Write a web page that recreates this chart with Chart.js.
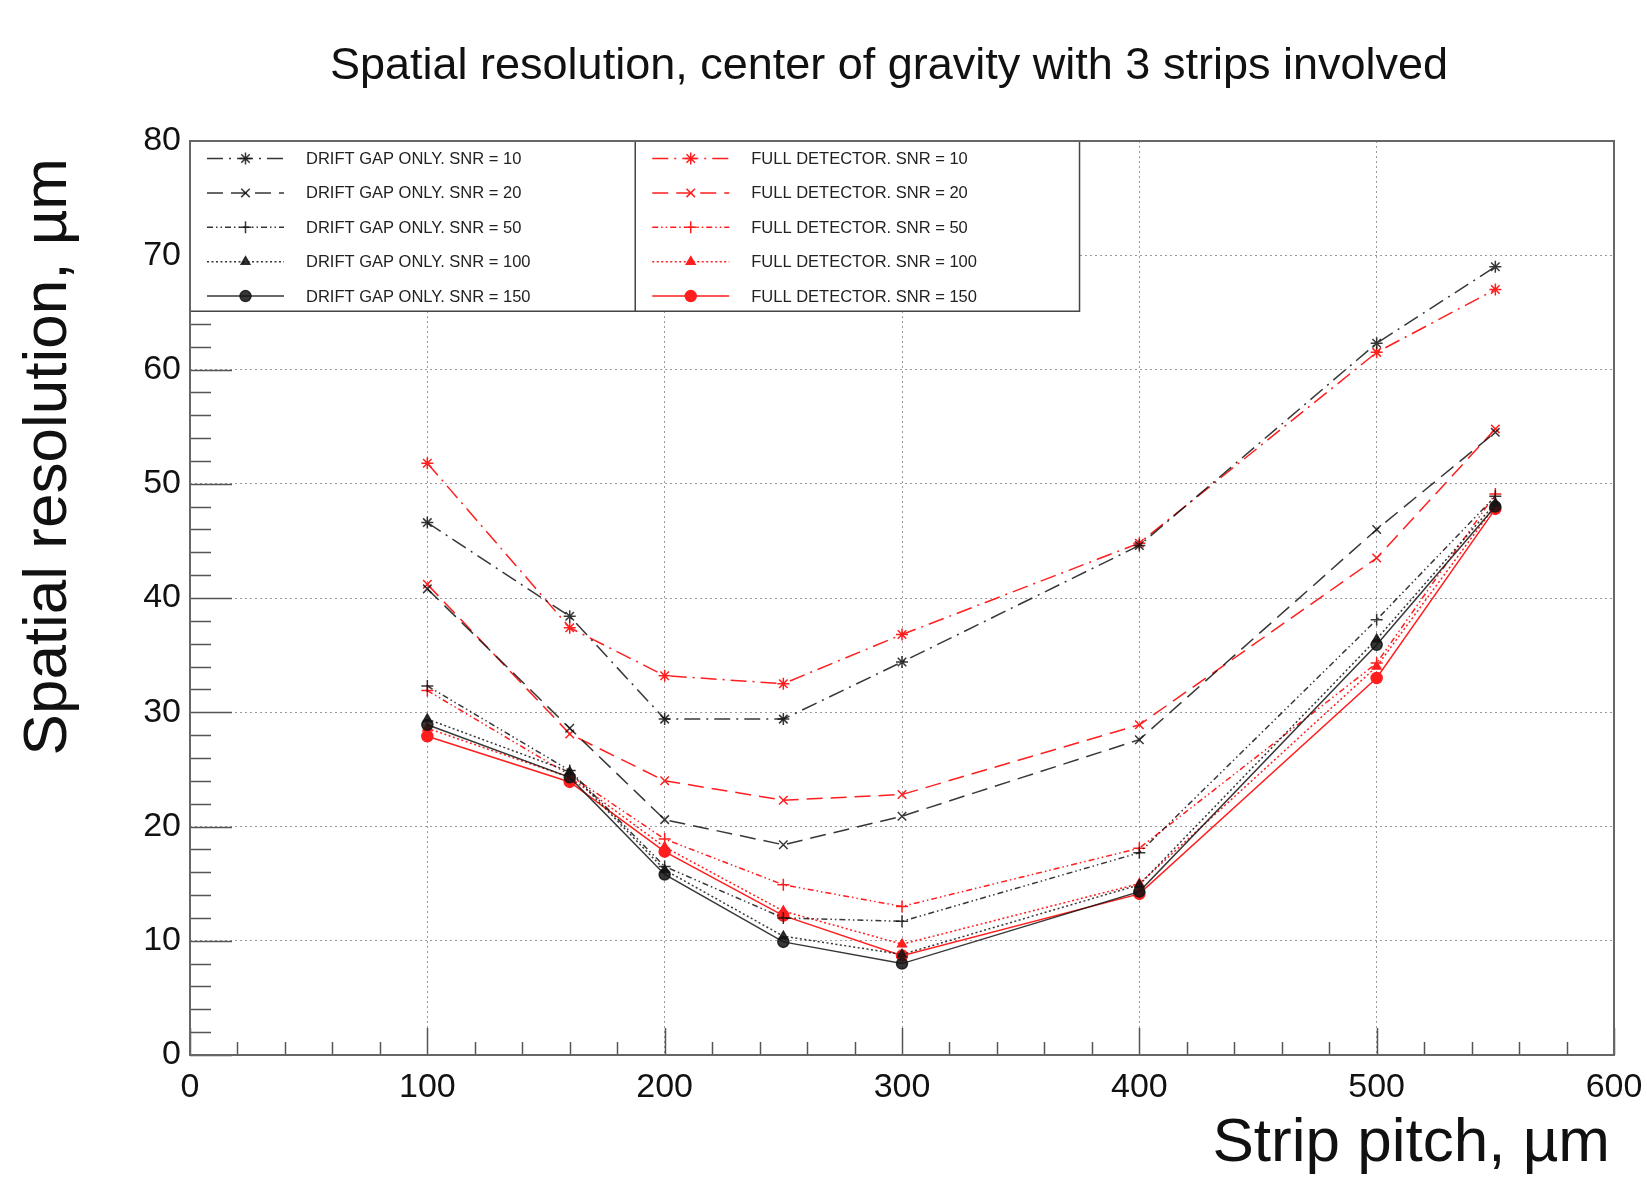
<!DOCTYPE html>
<html>
<head>
<meta charset="utf-8">
<script src="https://cdn.jsdelivr.net/npm/chart.js@4.4.1/dist/chart.umd.min.js"></script>
<style>
  html, body { margin: 0; padding: 0; background: #fff; }
  #wrap { width: 1647px; height: 1180px; }
</style>
</head>
<body>
<div id="wrap"><canvas id="resChart" width="1647" height="1180"></canvas></div>
<script>
// strip pitch values, um
const pitches = [100, 160, 200, 250, 300, 400, 500, 550];

// drift gap only
const driftSnr10  = [46.6, 38.4, 29.4, 29.4, 34.4, 44.6, 62.3, 69.0];
const driftSnr20  = [40.8, 28.6, 20.6, 18.4, 20.9, 27.6, 46.0, 54.5];
const driftSnr50  = [32.3, 24.9, 16.5, 12.0, 11.7, 17.7, 38.1, 48.9];
const driftSnr100 = [29.4, 24.8, 16.2, 10.4, 8.8, 14.9, 36.4, 48.3];
const driftSnr150 = [28.9, 24.3, 15.8, 9.9, 8.0, 14.3, 35.9, 48.0];

// full detector
const fullSnr10  = [51.8, 37.4, 33.2, 32.5, 36.8, 44.8, 61.5, 67.0];
const fullSnr20  = [41.2, 28.1, 24.0, 22.3, 22.8, 28.9, 43.5, 54.8];
const fullSnr50  = [31.9, 24.5, 18.9, 14.9, 13.0, 18.1, 34.3, 49.1];
const fullSnr100 = [28.6, 24.3, 18.2, 12.6, 9.7, 15.0, 34.0, 48.1];
const fullSnr150 = [27.9, 23.9, 17.8, 12.2, 8.7, 14.1, 33.0, 47.8];

const snrLabels = ['10', '20', '50', '100', '150'];
const xTicks = [0, 100, 200, 300, 400, 500, 600];
const yTicks = [0, 10, 20, 30, 40, 50, 60, 70, 80];

const BLACK = 'rgba(20,20,20,0.85)';
const RED = 'rgb(255,30,30)';

// line dash + marker for each SNR
const styles = [
  { dash: [16, 6, 2, 6], point: 'star', radius: 6, fill: false },
  { dash: [16, 8], point: 'crossRot', radius: 6, fill: false },
  { dash: [6, 3, 1.5, 3, 1.5, 3], point: 'cross', radius: 6, fill: false },
  { dash: [2, 2.5], point: 'triangle', radius: 5, fill: true },
  { dash: [], point: 'circle', radius: 5.5, fill: true },
];

const driftSeries = [driftSnr10, driftSnr20, driftSnr50, driftSnr100, driftSnr150];
const fullSeries = [fullSnr10, fullSnr20, fullSnr50, fullSnr100, fullSnr150];

function makeDataset(label, values, color, st) {
  return {
    label: label,
    data: values.map((v, i) => ({ x: pitches[i], y: v })),
    borderColor: color,
    backgroundColor: color,
    borderWidth: 1.5,
    borderDash: st.dash,
    pointStyle: st.point,
    pointRadius: st.radius,
    pointBorderWidth: 1.5,
    pointBackgroundColor: st.fill ? color : 'rgba(0,0,0,0)',
    pointBorderColor: color,
    tension: 0,
    fill: false,
  };
}

const datasets = [];
styles.forEach((st, i) => {
  datasets.push(makeDataset('DRIFT GAP ONLY. SNR = ' + snrLabels[i], driftSeries[i], BLACK, st));
});
styles.forEach((st, i) => {
  datasets.push(makeDataset('FULL DETECTOR. SNR = ' + snrLabels[i], fullSeries[i], RED, st));
});

// ROOT-like frame, inside ticks, titles and the two-column legend
const rootDecor = {
  id: 'rootDecor',
  afterDatasetsDraw(chart) {
    const ctx = chart.ctx;
    const area = chart.chartArea;
    const xs = chart.scales.x;
    const ys = chart.scales.y;
    ctx.save();

    // tick marks inside the frame
    ctx.strokeStyle = '#555';
    ctx.lineWidth = 1.5;
    for (let v = 0; v <= 80; v += 2) {
      const y = Math.round(ys.getPixelForValue(v)) + 0.5;
      const len = v % 10 === 0 ? 42 : 21;
      ctx.beginPath();
      ctx.moveTo(area.left, y);
      ctx.lineTo(area.left + len, y);
      ctx.stroke();
    }
    for (let v = 0; v <= 600; v += 20) {
      const x = Math.round(xs.getPixelForValue(v)) + 0.5;
      const len = v % 100 === 0 ? 27 : 13;
      ctx.beginPath();
      ctx.moveTo(x, area.bottom);
      ctx.lineTo(x, area.bottom - len);
      ctx.stroke();
    }

    // legend box
    const lx0 = xs.getPixelForValue(0);
    const lx1 = xs.getPixelForValue(374.8);
    const lxm = xs.getPixelForValue(187.6);
    const ly0 = ys.getPixelForValue(80);
    const ly1 = ys.getPixelForValue(65.1);
    ctx.fillStyle = '#fff';
    ctx.fillRect(lx0, ly0, lx1 - lx0, ly1 - ly0);
    ctx.strokeStyle = '#444';
    ctx.lineWidth = 1.5;
    ctx.strokeRect(lx0, ly0, lx1 - lx0, ly1 - ly0);
    ctx.beginPath();
    ctx.moveTo(lxm, ly0);
    ctx.lineTo(lxm, ly1);
    ctx.stroke();

    const rowY0 = ly0 + 17.5;
    const rowStep = 34.4;
    ctx.font = '16.5px "Liberation Sans", Arial, sans-serif';
    ctx.textBaseline = 'middle';
    chart.data.datasets.forEach((ds, i) => {
      const col = i < 5 ? 0 : 1;
      const row = i % 5;
      const y = rowY0 + row * rowStep;
      const sx0 = col === 0 ? lx0 + 17 : lxm + 17;
      const sx1 = sx0 + 77;
      ctx.strokeStyle = ds.borderColor;
      ctx.lineWidth = 1.5;
      ctx.setLineDash(ds.borderDash);
      ctx.beginPath();
      ctx.moveTo(sx0, y);
      ctx.lineTo(sx1, y);
      ctx.stroke();
      ctx.setLineDash([]);
      ctx.fillStyle = ds.pointBackgroundColor;
      ctx.strokeStyle = ds.pointBorderColor;
      ctx.lineWidth = 1.5;
      Chart.helpers.drawPoint(ctx, {
        pointStyle: ds.pointStyle,
        radius: ds.pointRadius,
        rotation: 0,
        borderWidth: 1.5,
      }, (sx0 + sx1) / 2, y);
      ctx.fillStyle = '#222';
      ctx.textAlign = 'left';
      ctx.fillText(ds.label, sx1 + 22, y + 1);
    });

    // frame
    ctx.strokeStyle = '#666';
    ctx.lineWidth = 2;
    ctx.strokeRect(area.left, area.top, area.right - area.left, area.bottom - area.top);

    // titles
    ctx.fillStyle = '#111';
    ctx.textBaseline = 'alphabetic';
    ctx.textAlign = 'center';
    ctx.font = '45px "Liberation Sans", Arial, sans-serif';
    ctx.fillText('Spatial resolution, center of gravity with 3 strips involved', 889, 79);

    ctx.textAlign = 'right';
    ctx.font = '62px "Liberation Sans", Arial, sans-serif';
    ctx.fillText('Strip pitch, \u00b5m', 1610, 1161);

    ctx.translate(66, 158);
    ctx.rotate(-Math.PI / 2);
    ctx.textAlign = 'right';
    ctx.fillText('Spatial resolution, \u00b5m', 0, 0);
    ctx.restore();
  }
};

new Chart(document.getElementById('resChart'), {
  type: 'line',
  data: { datasets: datasets },
  plugins: [rootDecor],
  options: {
    responsive: false,
    animation: false,
    layout: { padding: { top: 141, right: 33, left: 0, bottom: 0 } },
    plugins: {
      legend: { display: false },
      title: { display: false },
      tooltip: { enabled: false },
    },
    scales: {
      x: {
        type: 'linear',
        min: 0,
        max: 600,
        afterFit: (scale) => {
          scale.height = 125;
          scale.paddingLeft = 0;
          scale.paddingRight = 0;
        },
        afterBuildTicks: (scale) => { scale.ticks = xTicks.map(v => ({ value: v })); },
        ticks: {
          color: '#111',
          padding: 12,
          maxRotation: 0,
          font: { family: '"Liberation Sans", Arial, sans-serif', size: 34 },
        },
        grid: { color: '#9a9a9a', lineWidth: 1, drawTicks: false },
        border: { display: false, dash: [2, 3] },
      },
      y: {
        type: 'linear',
        min: 0,
        max: 80,
        afterFit: (scale) => {
          scale.width = 190;
          scale.paddingTop = 0;
          scale.paddingBottom = 0;
        },
        afterBuildTicks: (scale) => { scale.ticks = yTicks.map(v => ({ value: v })); },
        ticks: {
          color: '#111',
          padding: 9,
          font: { family: '"Liberation Sans", Arial, sans-serif', size: 34 },
        },
        grid: { color: '#9a9a9a', lineWidth: 1, drawTicks: false },
        border: { display: false, dash: [2, 3] },
      },
    },
  },
});
</script>
</body>
</html>
